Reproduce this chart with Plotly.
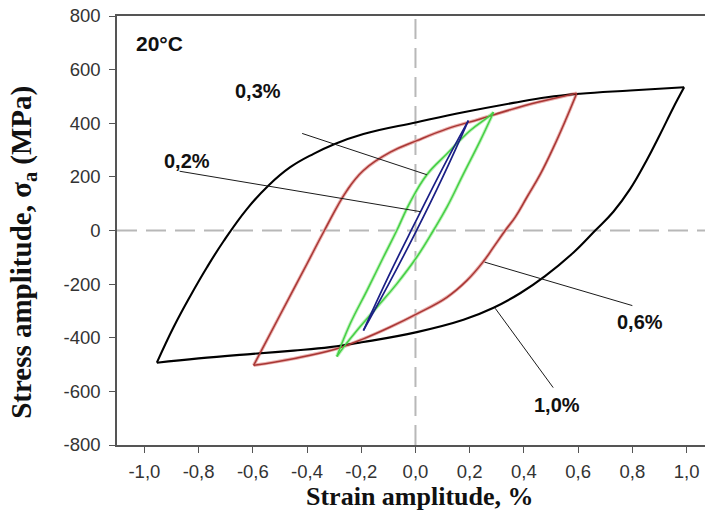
import plotly.graph_objects as go

# Hysteresis loops at 20°C: strain amplitude (%) vs stress (MPa)
# Each loop is split into a loading (upper) and an unloading (lower) branch.

# 1.0 % strain amplitude
s10_up_x = [-0.954, -0.892, -0.831, -0.769, -0.708, -0.622, -0.542, -0.462, -0.376, -0.3, -0.192, 0.005, 0.177, 0.361, 0.485, 0.607, 0.792, 0.991]
s10_up_y = [-493, -360, -245, -137, -40, 80, 168, 236, 286, 322, 360, 404, 441, 476, 497, 510, 522, 534]
s10_dn_x = [0.991, 0.951, 0.902, 0.853, 0.792, 0.730, 0.663, 0.583, 0.478, 0.386, 0.288, 0.177, 0.005, -0.192, -0.315, -0.45, -0.6, -0.8, -0.954]
s10_dn_y = [534, 458, 358, 262, 155, 70, 0, -82, -170, -234, -288, -333, -379, -416, -435, -448, -460, -477, -493]

# 0.6 % strain amplitude
s06_up_x = [-0.597, -0.5, -0.4, -0.336, -0.253, -0.192, -0.093, 0.005, 0.116, 0.239, 0.349, 0.45, 0.595]
s06_up_y = [-503, -316, -124, 0, 149, 224, 292, 335, 379, 416, 450, 478, 512]
s06_dn_x = [0.595, 0.553, 0.509, 0.461, 0.411, 0.368, 0.331, 0.288, 0.251, 0.190, 0.116, 0.005, -0.093, -0.192, -0.290, -0.45, -0.597]
s06_dn_y = [512, 410, 310, 211, 124, 50, 0, -62, -115, -186, -249, -311, -360, -404, -441, -478, -503]

# 0.3 % strain amplitude
s03_up_x = [-0.29, -0.241, -0.179, -0.118, -0.069, -0.020, 0.042, 0.116, 0.202, 0.27, 0.288]
s03_up_y = [-470, -348, -224, -99, 0, 105, 208, 286, 373, 425, 441]
s03_dn_x = [0.288, 0.239, 0.177, 0.116, 0.066, 0.005, -0.069, -0.142, -0.216, -0.265, -0.29]
s03_dn_y = [441, 335, 211, 87, 0, -99, -199, -286, -373, -435, -470]

# 0.2 % strain amplitude
s02_up_x = [-0.192, -0.1, 0.0, 0.1, 0.195]
s02_up_y = [-373, -172, 32, 232, 410]
s02_dn_x = [0.195, 0.1, 0.0, -0.1, -0.192]
s02_dn_y = [410, 198, -8, -202, -373]

# Loop labels with leader lines (label position, leader start, leader end)
label_text = ["0,2%", "0,3%", "0,6%", "1,0%"]
label_x = [-0.844, -0.58, 0.829, 0.521]
label_y = [261, 522, -342, -652]
leader_x0 = [-0.87, -0.418, 0.8, 0.508]
leader_y0 = [221, 362, -280, -586]
leader_x1 = [0.02, 0.042, 0.255, 0.294]
leader_y1 = [70, 208, -118, -290]

x_ticks = [-1.0, -0.8, -0.6, -0.4, -0.2, 0.0, 0.2, 0.4, 0.6, 0.8, 1.0]
x_tick_text = ["-1,0", "-0,8", "-0,6", "-0,4", "-0,2", "0,0", "0,2", "0,4", "0,6", "0,8", "1,0"]
y_ticks = [-800, -600, -400, -200, 0, 200, 400, 600, 800]
y_tick_text = ["-800", "-600", "-400", "-200", "0", "200", "400", "600", "800"]

fig = go.Figure()

def branch(x, y, color, width):
    fig.add_trace(go.Scatter(x=x, y=y, mode="lines", showlegend=False, hoverinfo="skip",
                             line=dict(color=color, width=width, shape="spline", smoothing=1.2)))

# light halo under the coloured loops
for bx, by in [(s06_up_x, s06_up_y), (s06_dn_x, s06_dn_y)]:
    branch(bx, by, "#eab0ae", 3.4)
for bx, by in [(s03_up_x, s03_up_y), (s03_dn_x, s03_dn_y)]:
    branch(bx, by, "#bdf2b9", 3.4)

branch(s10_up_x, s10_up_y, "#000000", 2.1)
branch(s10_dn_x, s10_dn_y, "#000000", 2.1)
branch(s06_up_x, s06_up_y, "#a83634", 1.5)
branch(s06_dn_x, s06_dn_y, "#a83634", 1.5)
branch(s03_up_x, s03_up_y, "#45cf45", 1.5)
branch(s03_dn_x, s03_dn_y, "#45cf45", 1.5)
branch(s02_up_x, s02_up_y, "#1b1f86", 1.7)
branch(s02_dn_x, s02_dn_y, "#1b1f86", 1.7)

shapes = [
    dict(type="line", xref="x", yref="paper", x0=0, x1=0, y0=0, y1=1,
         line=dict(color="#b8b8b8", width=2, dash="20px,9px"), layer="below"),
    dict(type="line", xref="paper", yref="y", x0=0, x1=1, y0=0, y1=0,
         line=dict(color="#b8b8b8", width=2, dash="20px,9px"), layer="below"),
]
for x0, y0, x1, y1 in zip(leader_x0, leader_y0, leader_x1, leader_y1):
    shapes.append(dict(type="line", xref="x", yref="y", x0=x0, y0=y0, x1=x1, y1=y1,
                       line=dict(color="#1a1a1a", width=1)))

sans = "Liberation Sans, Arial"
serif = "Liberation Serif, Times New Roman"

annotations = [dict(x=-0.945, y=698, xref="x", yref="y", text="<b>20°C</b>", showarrow=False,
                    font=dict(family=sans, size=21, color="#111111"))]
for t, x, y in zip(label_text, label_x, label_y):
    annotations.append(dict(x=x, y=y, xref="x", yref="y", text="<b>" + t + "</b>", showarrow=False,
                            font=dict(family=sans, size=20, color="#111111")))

# axis titles
annotations.append(dict(x=0.515, y=-0.121, xref="paper", yref="paper", xanchor="center", yanchor="middle",
                        text="<b>Strain amplitude, %</b>", showarrow=False,
                        font=dict(family=serif, size=26, color="#111111")))
annotations.append(dict(x=-0.16, y=0.45, xref="paper", yref="paper", xanchor="center", yanchor="middle",
                        textangle=-90, text="<b>Stress amplitude, σ<sub>a</sub> (MPa)</b>", showarrow=False,
                        font=dict(family=serif, size=29, color="#111111")))

fig.update_layout(
    width=705, height=524,
    margin=dict(l=117, r=0, t=16, b=79),
    paper_bgcolor="white", plot_bgcolor="white",
    shapes=shapes, annotations=annotations,
    font=dict(family=sans, color="#333333"),
    xaxis=dict(range=[-1.101, 1.068], tickvals=x_ticks, ticktext=x_tick_text,
               ticks="outside", ticklen=6, tickcolor="#555555", tickwidth=1.3,
               ticklabelstandoff=3,
               showline=True, linecolor="#555555", linewidth=1.5, mirror=True,
               showgrid=False, zeroline=False,
               tickfont=dict(family=sans, size=18.5, color="#333333")),
    yaxis=dict(range=[-800, 800], tickvals=y_ticks, ticktext=y_tick_text,
               ticks="outside", ticklen=6, tickcolor="#555555", tickwidth=1.3,
               ticklabelstandoff=5,
               showline=True, linecolor="#555555", linewidth=1.5,
               showgrid=False, zeroline=False,
               tickfont=dict(family=sans, size=18.5, color="#333333")),
)

fig.write_html("out.html")
